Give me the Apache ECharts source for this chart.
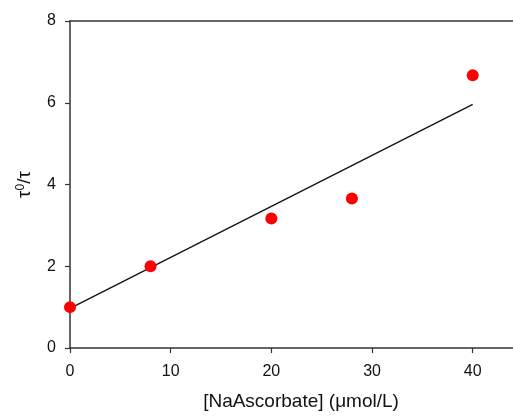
<!DOCTYPE html>
<html><head><meta charset="utf-8">
<script src="https://cdn.jsdelivr.net/npm/echarts@6/dist/echarts.min.js"></script>
<style>html,body{margin:0;padding:0;background:#fff;overflow:hidden}#c{width:513px;height:416px}</style>
</head><body><div id="c"></div>
<script>
var concentrations = [0, 8, 20, 28, 40];
var ratios = [1.0, 2.0, 3.17, 3.66, 6.67];
var fitX = [0, 40];
var fitY = [0.97, 5.96];
var xTicks = [0, 10, 20, 30, 40];
var yTicks = [0, 2, 4, 6, 8];

var chart = echarts.init(document.getElementById('c'));
var font = 'Liberation Sans, Arial, sans-serif';
chart.setOption({
  animation: false,
  grid: {left: 70, right: 0, top: 21, height: 327, outerBoundsMode: 'none', containLabel: false},
  xAxis: [{
    type: 'value', min: 0, max: 44, interval: 10,
    axisLine: {lineStyle: {color: '#333', width: 1.5}},
    axisTick: {lineStyle: {color: '#333', width: 1.2}, length: 5},
    splitLine: {show: false},
    axisLabel: {color: '#111', fontSize: 16, fontFamily: font, margin: 16,
      showMaxLabel: false,
      formatter: function(v){ return xTicks.indexOf(v) >= 0 ? String(v) : ''; }},
    name: '[NaAscorbate] (\u03bcmol/L)', nameLocation: 'middle', nameGap: 44,
    nameTextStyle: {color: '#111', fontSize: 19, fontFamily: font, padding: [0, 0, 0, 19]}
  }, {
    type: 'value', min: 0, max: 44, position: 'top',
    axisLine: {show: true, onZero: false, lineStyle: {color: '#333', width: 1.5}},
    axisTick: {show: false}, axisLabel: {show: false}, splitLine: {show: false}
  }],
  yAxis: {
    type: 'value', min: 0, max: 8, interval: 2,
    axisLine: {show: true, lineStyle: {color: '#333', width: 1.5}},
    axisTick: {show: true, lineStyle: {color: '#333', width: 1.2}, length: 5},
    splitLine: {show: false},
    axisLabel: {color: '#111', fontSize: 16, fontFamily: font, margin: 14,
      formatter: function(v){ return yTicks.indexOf(v) >= 0 ? String(v) : ''; }},
    name: '{t|\u03c4}{s|0}{t|/\u03c4}', nameLocation: 'middle', nameGap: 35,
    nameTextStyle: {color: '#111', fontFamily: font,
      rich: {t: {fontSize: 19, fontFamily: font, color: '#111'},
             s: {fontSize: 12, fontFamily: font, color: '#111', verticalAlign: 'top', padding: [0,0,8,0]}}}
  },
  series: [{
    type: 'line', xAxisIndex: 0,
    data: fitX.map(function(x, i){ return [x, fitY[i]]; }),
    showSymbol: false, symbol: 'none',
    lineStyle: {color: '#111', width: 1.3}, z: 2
  }, {
    type: 'scatter', xAxisIndex: 0,
    data: concentrations.map(function(x, i){ return [x, ratios[i]]; }),
    symbolSize: 12, itemStyle: {color: '#ff0000', opacity: 1}, z: 3
  }]
});
</script></body></html>
